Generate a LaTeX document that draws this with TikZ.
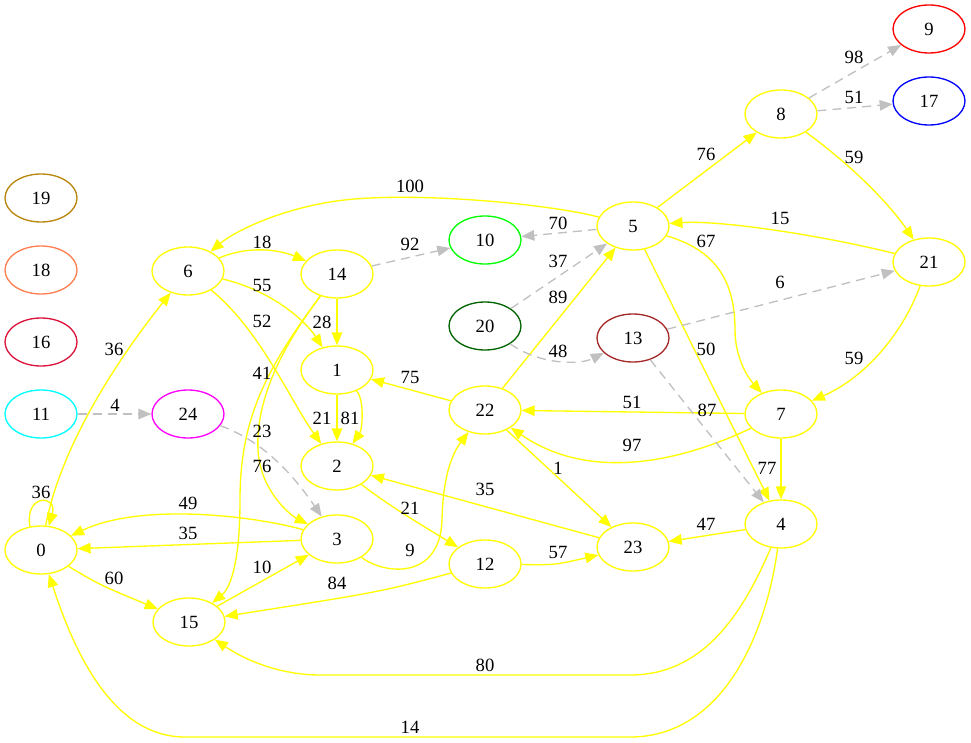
\documentclass[tikz,border=0pt]{standalone}
\usepackage{fontspec}
\setmainfont{Liberation Serif}
\usetikzlibrary{arrows.meta,shapes.geometric}
\definecolor{ylw}{HTML}{FFFF00}
\definecolor{gry}{HTML}{C0C0C0}
\definecolor{dgold}{HTML}{B8860B}
\definecolor{coralc}{HTML}{FF7F50}
\definecolor{crims}{HTML}{DC143C}
\definecolor{cyn}{HTML}{00FFFF}
\definecolor{mgn}{HTML}{FF00FF}
\definecolor{grn}{HTML}{00FF00}
\definecolor{dgrn}{HTML}{006400}
\definecolor{brwn}{HTML}{A52A2A}
\definecolor{rd}{HTML}{FF0000}
\definecolor{bl}{HTML}{0000FF}
\begin{document}
\begin{tikzpicture}[x=1pt,y=-1pt,
  vert/.style={ellipse, draw=#1, line width=1.33pt, minimum width=72pt,
    minimum height=48pt, inner sep=0pt, font=\fontsize{18.67}{20}\selectfont},
  vert/.default=ylw,
  lbl/.style={inner sep=0pt, font=\fontsize{18.67}{20}\selectfont},
  e/.style={draw=ylw, line width=1.33pt, -{Triangle[length=13pt,width=10.5pt]}},
  g/.style={draw=gry, line width=1.33pt, dash pattern=on 9pt off 6pt,
    -{Triangle[length=13pt,width=10.5pt]}}]
\useasboundingbox (0,0) rectangle (971,743);

% vertices
\node[vert=rd]     (n9)  at (929,29)  {9};
\node[vert=bl]     (n17) at (929,101) {17};
\node[vert]        (n8)  at (781,114) {8};
\node[vert=dgold]  (n19) at (41,198)  {19};
\node[vert=coralc] (n18) at (41,270)  {18};
\node[vert=crims]  (n16) at (41,342)  {16};
\node[vert=cyn]    (n11) at (41,414)  {11};
\node[vert=mgn]    (n24) at (188,414) {24};
\node[vert]        (n6)  at (188,271) {6};
\node[vert]        (n14) at (337,274) {14};
\node[vert=grn]    (n10) at (485,240) {10};
\node[vert]        (n5)  at (633,226) {5};
\node[vert]        (n21) at (929,262) {21};
\node[vert=dgrn]   (n20) at (485,326) {20};
\node[vert=brwn]   (n13) at (633,338) {13};
\node[vert]        (n1)  at (337,370) {1};
\node[vert]        (n22) at (485,410) {22};
\node[vert]        (n7)  at (781,414) {7};
\node[vert]        (n2)  at (337,466) {2};
\node[vert]        (n3)  at (337,539) {3};
\node[vert]        (n0)  at (41,550)  {0};
\node[vert]        (n4)  at (781,524) {4};
\node[vert]        (n23) at (633,547) {23};
\node[vert]        (n12) at (485,564) {12};
\node[vert]        (n15) at (189,622) {15};

% solid edges
\draw[e] (n0.115) .. controls (24,494) and (58,494) .. (n0.72);
\draw[e] (n0) .. controls (62,440) and (125,350) .. (n6);
\draw[e] (n0) .. controls (100,585) .. (n15);
\draw[e] (n3) .. controls (250,515) and (140,503) .. (n0);
\draw[e] (n3) -- (n0);
\draw[e] (n6) .. controls (250,245) and (280,250) .. (n14);
\draw[e] (n6) .. controls (270,290) and (305,320) .. (n1);
\draw[e] (n6) .. controls (260,330) and (290,400) .. (n2);
\draw[e] (n14) -- (n1);
\draw[e] (n14) .. controls (265,370) and (240,420) .. (240,500)
  .. controls (240,570) and (228,590) .. (n15);
\draw[e] (n14) .. controls (272,360) and (256,410) .. (258,450)
  .. controls (260,490) and (290,515) .. (n3);
\draw[e] (n1) -- (n2);
\draw[e] (n1) .. controls (365,400) and (362,430) .. (n2);
\draw[e] (n22) -- (n1);
\draw[e] (n2) .. controls (395,510) and (430,530) .. (n12);
\draw[e] (n3) .. controls (385,575) and (440,580) .. (442,520)
  .. controls (443,470) and (455,450) .. (n22);
\draw[e] (n15) -- (n3);
\draw[e] (n12) .. controls (380,592) .. (n15);
\draw[e] (n12) .. controls (555,565) .. (n23);
\draw[e] (n23) -- (n2);
\draw[e] (n22) -- (n23);
\draw[e] (n22) -- (n5);
\draw[e] (n5) .. controls (545,203) and (400,190) .. (330,202)
  .. controls (270,212) and (230,235) .. (n6);
\draw[e] (n5) -- (n8);
\draw[e] (n5) .. controls (715,250) and (735,280) .. (735,330)
  .. controls (735,360) and (750,380) .. (n7);
\draw[e] (n5) -- (n4);
\draw[e] (n8) .. controls (855,168) and (890,205) .. (n21);
\draw[e] (n21) .. controls (820,235) and (720,220) .. (n5);
\draw[e] (n21) .. controls (900,340) and (860,380) .. (n7);
\draw[e] (n7) -- (n22);
\draw[e] (n7) .. controls (680,462) and (590,482) .. (n22);
\draw[e] (n7) -- (n4);
\draw[e] (n4) -- (n23);
\draw[e] (n4) .. controls (740,620) and (700,675) .. (630,675) -- (320,675)
  .. controls (280,675) and (245,660) .. (n15);
\draw[e] (n4) .. controls (765,640) and (720,737) .. (630,737) -- (185,737)
  .. controls (110,737) and (72,645) .. (n0);

% dashed edges
\draw[g] (n14) -- (n10);
\draw[g] (n24) .. controls (260,440) and (290,470) .. (n3);
\draw[g] (n11) -- (n24);
\draw[g] (n20) -- (n5);
\draw[g] (n20) .. controls (540,365) and (580,365) .. (n13);
\draw[g] (n5) -- (n10);
\draw[g] (n8) -- (n9);
\draw[g] (n8) -- (n17);
\draw[g] (n13) -- (n21);
\draw[g] (n13) -- (n4);

% edge weights
\node[lbl] (w1)  at (41,492)  {36};
\node[lbl] (w2)  at (114,349) {36};
\node[lbl] (w3)  at (114,578) {60};
\node[lbl] (w4)  at (188,503) {49};
\node[lbl] (w5)  at (188,533) {35};
\node[lbl] (w6)  at (262,242) {18};
\node[lbl] (w7)  at (262,285) {55};
\node[lbl] (w8)  at (262,321) {52};
\node[lbl] (w9)  at (410,244) {92};
\node[lbl] (w10) at (322,322) {28};
\node[lbl] (w11) at (262,373) {41};
\node[lbl] (w12) at (262,466) {76};
\node[lbl] (w13) at (262,431) {23};
\node[lbl] (w14) at (115,405) {4};
\node[lbl] (w15) at (322,418) {21};
\node[lbl] (w16) at (350,418) {81};
\node[lbl] (w17) at (410,377) {75};
\node[lbl] (w18) at (410,508) {21};
\node[lbl] (w19) at (410,550) {9};
\node[lbl] (w20) at (262,567) {10};
\node[lbl] (w21) at (337,583) {84};
\node[lbl] (w22) at (558,552) {57};
\node[lbl] (w23) at (485,489) {35};
\node[lbl] (w24) at (558,468) {1};
\node[lbl] (w25) at (558,297) {89};
\node[lbl] (w26) at (558,261) {37};
\node[lbl] (w27) at (558,351) {48};
\node[lbl] (w28) at (558,223) {70};
\node[lbl] (w29) at (410,186) {100};
\node[lbl] (w30) at (706,154) {76};
\node[lbl] (w31) at (706,241) {67};
\node[lbl] (w32) at (706,349) {50};
\node[lbl] (w33) at (854,57)  {98};
\node[lbl] (w34) at (854,97)  {51};
\node[lbl] (w35) at (854,157) {59};
\node[lbl] (w36) at (780,218) {15};
\node[lbl] (w37) at (780,282) {6};
\node[lbl] (w38) at (707,410) {87};
\node[lbl] (w39) at (854,358) {59};
\node[lbl] (w40) at (632,402) {51};
\node[lbl] (w41) at (632,445) {97};
\node[lbl] (w42) at (767,468) {77};
\node[lbl] (w43) at (706,524) {47};
\node[lbl] (w44) at (485,665) {80};
\node[lbl] (w45) at (410,727) {14};
\end{tikzpicture}
\end{document}
